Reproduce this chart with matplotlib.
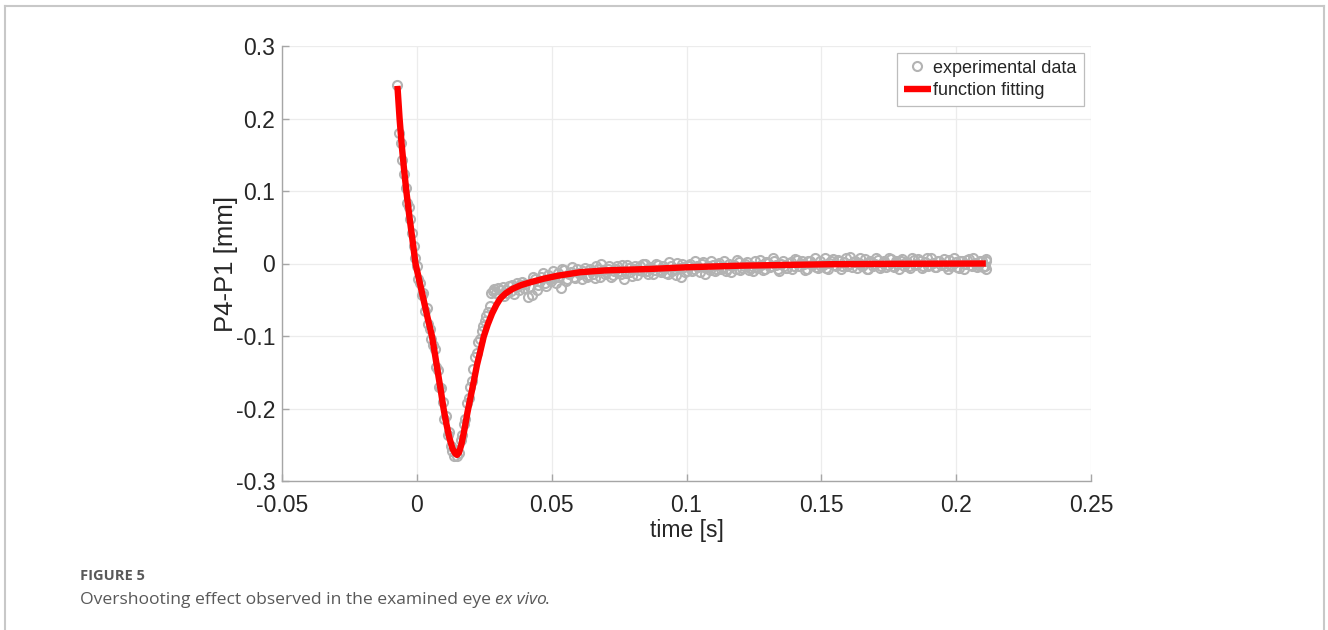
import matplotlib
matplotlib.use("Agg")
import matplotlib.pyplot as plt
from matplotlib.lines import Line2D
from matplotlib.ticker import FixedLocator, FixedFormatter

# ---------------- data ----------------
exp_time = [
    -0.0072, -0.0066, -0.0060, -0.0054, -0.0048, -0.0042, -0.0036, -0.0030, -0.0024, -0.0018,
    -0.0012, -0.0006, 0.0000, 0.0006, 0.0012, 0.0018, 0.0024, 0.0030, 0.0036, 0.0042,
    0.0048, 0.0054, 0.0060, 0.0066, 0.0072, 0.0078, 0.0084, 0.0090, 0.0096, 0.0102,
    0.0108, 0.0114, 0.0120, 0.0126, 0.0132, 0.0138, 0.0144, 0.0150, 0.0156, 0.0162,
    0.0168, 0.0174, 0.0180, 0.0186, 0.0192, 0.0198, 0.0204, 0.0210, 0.0216, 0.0222,
    0.0228, 0.0234, 0.0240, 0.0246, 0.0252, 0.0258, 0.0264, 0.0270, 0.0276, 0.0282,
    0.0288, 0.0294, 0.0300, 0.0306, 0.0312, 0.0318, 0.0324, 0.0330, 0.0336, 0.0342,
    0.0348, 0.0354, 0.0360, 0.0366, 0.0372, 0.0378, 0.0384, 0.0390, 0.0396, 0.0402,
    0.0414, 0.0426, 0.0438, 0.0450, 0.0462, 0.0474, 0.0486, 0.0498, 0.0510, 0.0522,
    0.0534, 0.0546, 0.0558, 0.0570, 0.0582, 0.0594, 0.0606, 0.0618, 0.0630, 0.0642,
    0.0654, 0.0666, 0.0678, 0.0690, 0.0702, 0.0714, 0.0726, 0.0738, 0.0750, 0.0762,
    0.0774, 0.0786, 0.0798, 0.0810, 0.0822, 0.0834, 0.0846, 0.0858, 0.0870, 0.0882,
    0.0894, 0.0906, 0.0918, 0.0930, 0.0942, 0.0954, 0.0966, 0.0978, 0.0990, 0.1002,
    0.1014, 0.1026, 0.1038, 0.1050, 0.1062, 0.1074, 0.1086, 0.1098, 0.1110, 0.1122,
    0.1134, 0.1146, 0.1158, 0.1170, 0.1182, 0.1194, 0.1206, 0.1218, 0.1230, 0.1242,
    0.1254, 0.1266, 0.1278, 0.1290, 0.1302, 0.1314, 0.1326, 0.1338, 0.1350, 0.1362,
    0.1374, 0.1386, 0.1398, 0.1410, 0.1422, 0.1434, 0.1446, 0.1458, 0.1470, 0.1482,
    0.1494, 0.1506, 0.1518, 0.1530, 0.1542, 0.1554, 0.1566, 0.1578, 0.1590, 0.1602,
    0.1614, 0.1626, 0.1638, 0.1650, 0.1662, 0.1674, 0.1686, 0.1698, 0.1710, 0.1722,
    0.1734, 0.1746, 0.1758, 0.1770, 0.1782, 0.1794, 0.1806, 0.1818, 0.1830, 0.1842,
    0.1854, 0.1866, 0.1878, 0.1890, 0.1902, 0.1914, 0.1926, 0.1938, 0.1950, 0.1962,
    0.1974, 0.1986, 0.1998, 0.2010, 0.2022, 0.2034, 0.2046, 0.2058, 0.2070, 0.2082,
    0.2094, 0.2106, 0.2112, 0.2112,
    0.0420, 0.0432, 0.0444, 0.0456, 0.0468, 0.0480, 0.0492, 0.0504, 0.0516, 0.0528,
    0.0540, 0.0552, 0.0564, 0.0576, 0.0588, 0.0600, 0.0612, 0.0624, 0.0636, 0.0648,
    0.0660, 0.0672, 0.0684, 0.0696, 0.0708, 0.0720, 0.0732, 0.0744, 0.0756, 0.0768,
    0.0780, 0.0792, 0.0804, 0.0816, 0.0828, 0.0840, 0.0852, 0.0864, 0.0876, 0.0888,
    0.0900, 0.0912, 0.0924, 0.0936, 0.0948, 0.0960, 0.0972, 0.0984, 0.0996, 0.1008,
    0.1020, 0.1032, 0.1044, 0.1056, 0.1068, 0.1080, 0.1092, 0.1104, 0.1116, 0.1128,
    0.1140, 0.1152, 0.1164, 0.1176, 0.1188, 0.1200, 0.1212, 0.1224, 0.1236, 0.1248,
    0.1260, 0.1272, 0.1284, 0.1296, 0.1308, 0.1320, 0.1332, 0.1344, 0.1356, 0.1368,
    0.1380, 0.1392, 0.1404, 0.1416, 0.1428, 0.1440, 0.1452, 0.1464, 0.1476, 0.1488,
    0.1500, 0.1512, 0.1524, 0.1536, 0.1548, 0.1560, 0.1572, 0.1584, 0.1596, 0.1608,
    0.1620, 0.1632, 0.1644, 0.1656, 0.1668, 0.1680, 0.1692, 0.1704, 0.1716, 0.1728,
    0.1740, 0.1752, 0.1764, 0.1776, 0.1788, 0.1800, 0.1812, 0.1824, 0.1836, 0.1848,
    0.1860, 0.1872, 0.1884, 0.1896, 0.1908, 0.1920, 0.1932, 0.1944, 0.1956, 0.1968,
    0.1980, 0.1992, 0.2004, 0.2016, 0.2028, 0.2040, 0.2052, 0.2064, 0.2076, 0.2088,
    0.2100, 0.2112,
]
exp_disp = [
    0.246, 0.180, 0.166, 0.143, 0.124, 0.104, 0.083, 0.078, 0.061, 0.042,
    0.024, 0.008, -0.003, -0.022, -0.027, -0.044, -0.041, -0.066, -0.062, -0.084,
    -0.091, -0.104, -0.113, -0.118, -0.143, -0.147, -0.170, -0.172, -0.191, -0.214,
    -0.211, -0.236, -0.232, -0.252, -0.258, -0.265, -0.257, -0.266, -0.262, -0.243,
    -0.236, -0.221, -0.214, -0.193, -0.185, -0.170, -0.162, -0.146, -0.129, -0.124,
    -0.108, -0.104, -0.093, -0.086, -0.079, -0.072, -0.067, -0.058, -0.041, -0.038,
    -0.035, -0.040, -0.034, -0.043, -0.037, -0.032, -0.045, -0.036, -0.040, -0.031,
    -0.038, -0.029, -0.042, -0.033, -0.027, -0.036, -0.030, -0.025, -0.034, -0.028,
    -0.046, -0.043, -0.021, -0.030, -0.018, -0.027, -0.016, -0.024, -0.020, -0.013,
    -0.034, -0.009, -0.021, -0.012, -0.018, -0.008, -0.015, -0.010, -0.019, -0.007,
    -0.014, -0.004, -0.019, -0.009, -0.012, -0.003, -0.016, -0.008, -0.011, -0.002,
    -0.013, -0.006, -0.017, -0.003, -0.009, -0.011, -0.001, -0.014, -0.006, -0.009,
    -0.002, -0.012, -0.007, -0.015, -0.003, -0.008, 0.001, -0.018, -0.005, -0.011,
    -0.001, -0.008, -0.003, -0.012, 0.002, -0.006, -0.009, -0.002, -0.007, 0.001,
    -0.005, -0.010, 0.000, -0.004, -0.008, 0.002, -0.006, -0.001, -0.009, -0.003,
    0.003, -0.005, -0.002, -0.008, 0.001, -0.004, 0.004, -0.007, -0.001, -0.003,
    -0.006, 0.002, -0.003, 0.005, -0.004, -0.001, -0.007, 0.003, 0.000, -0.005,
    0.004, -0.002, -0.006, 0.001, 0.006, -0.003, 0.003, -0.004, 0.008, 0.000,
    -0.005, 0.004, 0.001, -0.003, 0.006, -0.007, 0.002, -0.001, 0.005, -0.004,
    0.003, -0.002, 0.006, -0.005, 0.000, 0.004, -0.003, 0.002, -0.006, 0.005,
    -0.001, 0.003, -0.004, 0.007, -0.002, 0.001, -0.005, 0.004, 0.000, -0.003,
    0.005, -0.002, 0.002, -0.006, 0.003, -0.001, 0.006, -0.004, 0.001, -0.002,
    0.004, -0.003, -0.008, 0.004,
    -0.033, -0.019, -0.036, -0.024, -0.013, -0.031, -0.022, -0.010, -0.027, -0.019,
    -0.008, -0.024, -0.014, -0.005, -0.020, -0.013, -0.022, -0.006, -0.016, -0.011,
    -0.020, -0.008, -0.001, -0.015, -0.007, -0.018, -0.010, -0.004, -0.014, -0.021,
    -0.002, -0.012, -0.008, -0.016, -0.004, 0.000, -0.010, -0.005, -0.015, -0.001,
    -0.009, -0.004, -0.013, 0.002, -0.010, -0.016, -0.006, -0.001, -0.012, -0.004,
    -0.010, 0.003, -0.005, -0.001, -0.014, -0.004, 0.004, -0.011, -0.002, -0.008,
    0.003, -0.007, -0.012, -0.002, 0.005, -0.009, -0.003, 0.002, -0.006, -0.011,
    -0.006, 0.005, -0.009, 0.002, -0.005, 0.007, -0.002, -0.010, 0.003, -0.006,
    0.001, -0.008, 0.006, -0.003, 0.003, -0.009, 0.004, -0.002, 0.007, -0.006,
    -0.004, 0.007, -0.008, 0.003, -0.002, 0.005, -0.007, 0.002, -0.003, 0.009,
    0.002, -0.006, 0.008, -0.002, -0.008, 0.004, -0.004, 0.007, -0.006, 0.001,
    -0.005, 0.007, -0.003, 0.004, -0.007, 0.006, 0.001, -0.004, 0.008, -0.002,
    0.006, -0.006, 0.002, -0.003, 0.008, -0.005, 0.004, -0.002, 0.006, -0.007,
    -0.004, 0.007, -0.005, 0.003, -0.007, 0.005, -0.002, 0.008, -0.005, 0.003,
    -0.005, 0.006,
]

fit_time = [
    -0.0072, -0.0064, -0.0056, -0.0048, -0.0039, -0.0028, -0.0016, -0.0005, 0.0010, 0.0025,
    0.0040, 0.0056, 0.0068, 0.0080, 0.0090, 0.0099, 0.0110, 0.0121, 0.0132, 0.0142,
    0.0149, 0.0156, 0.0165, 0.0176, 0.0188, 0.0200, 0.0211, 0.0223, 0.0236, 0.0248,
    0.0263, 0.0279, 0.0295, 0.0310, 0.0330, 0.0355, 0.0385, 0.0420, 0.0470, 0.0520,
    0.0606, 0.0700, 0.0866, 0.1000, 0.1200, 0.1530, 0.1800, 0.2110,
]
fit_disp = [
    0.245, 0.200, 0.163, 0.132, 0.100, 0.066, 0.032, 0.000, -0.025, -0.050,
    -0.075, -0.100, -0.127, -0.155, -0.178, -0.200, -0.222, -0.241, -0.255, -0.262,
    -0.264, -0.261, -0.250, -0.230, -0.205, -0.183, -0.163, -0.140, -0.120, -0.101,
    -0.084, -0.069, -0.057, -0.048, -0.041, -0.035, -0.030, -0.026, -0.021, -0.017,
    -0.012, -0.0095, -0.0075, -0.0052, -0.0030, -0.0010, -0.0004, 0.0000,
]

x_ticks = [-0.05, 0, 0.05, 0.1, 0.15, 0.2, 0.25]
x_tick_labels = ["-0.05", "0", "0.05", "0.1", "0.15", "0.2", "0.25"]
y_ticks = [-0.3, -0.2, -0.1, 0, 0.1, 0.2, 0.3]
y_tick_labels = ["-0.3", "-0.2", "-0.1", "0", "0.1", "0.2", "0.3"]

# ---------------- figure ----------------
W, H = 1328, 630
fig = plt.figure(figsize=(W / 100, H / 100), dpi=100)
fig.patch.set_facecolor("white")

L, R, T, B = 282, 1091, 46, 481
ax = fig.add_axes([L / W, 1 - B / H, (R - L) / W, (B - T) / H])

axis_font = "Liberation Sans"
spine_col = "#a6a6a6"
text_col = "#262626"

ax.plot(exp_time, exp_disp, linestyle="none", marker="o", markersize=6.5,
        markerfacecolor="none", markeredgecolor="#b3b3b3", markeredgewidth=1.5,
        label="experimental data", zorder=2)
ax.plot(fit_time, fit_disp, color="#ff0000", linewidth=4.6,
        solid_joinstyle="round", solid_capstyle="butt",
        label="function fitting", zorder=3)

ax.set_xlim(-0.05, 0.25)
ax.set_ylim(-0.3, 0.3)
ax.xaxis.set_major_locator(FixedLocator(x_ticks))
ax.xaxis.set_major_formatter(FixedFormatter(x_tick_labels))
ax.yaxis.set_major_locator(FixedLocator(y_ticks))
ax.yaxis.set_major_formatter(FixedFormatter(y_tick_labels))

for s in ["top", "right"]:
    ax.spines[s].set_visible(False)
for s in ["left", "bottom"]:
    ax.spines[s].set_color(spine_col)
    ax.spines[s].set_linewidth(1.0)

ax.grid(True, color="#ececec", linewidth=0.9)
ax.set_axisbelow(True)
ax.tick_params(direction="in", length=5, width=1.0, color=spine_col,
               labelcolor=text_col, labelsize=16.5)
ax.tick_params(axis="x", pad=9)
ax.tick_params(axis="y", pad=5)
for lab in ax.get_xticklabels() + ax.get_yticklabels():
    lab.set_fontfamily(axis_font)

ax.set_xlabel("time [s]", fontsize=16.5, fontfamily=axis_font, color=text_col, labelpad=2)
ax.set_ylabel("P4-P1 [mm]", fontsize=18.5, fontfamily=axis_font, color=text_col, labelpad=-2)

leg = ax.legend(loc="upper right", bbox_to_anchor=(0.991, 0.985), borderaxespad=0,
                frameon=True, fancybox=False, framealpha=1, edgecolor="#bdbdbd",
                prop={"family": axis_font, "size": 13}, handlelength=1.5,
                handletextpad=0.12, borderpad=0.4, labelspacing=0.3)
leg.get_frame().set_linewidth(0.9)
for t in leg.get_texts():
    t.set_color(text_col)

# ---------------- caption & border ----------------
cap_col = "#595959"
cap_font = ["Open Sans", "DejaVu Sans"]
fig.text(80 / W, 1 - 576 / H, "FIGURE 5", fontsize=10.5, fontweight="bold",
         family=cap_font, color=cap_col, va="center", ha="left")
t1 = fig.text(80 / W, 1 - 600 / H, "Overshooting effect observed in the examined eye ",
              fontsize=12.6, family=cap_font, color=cap_col, va="center", ha="left")
fig.canvas.draw()
bb = t1.get_window_extent()
t2 = fig.text(bb.x1 / W, 1 - 600 / H, "ex vivo", fontsize=12.6, family=cap_font,
              style="italic", color=cap_col, va="center", ha="left")
fig.canvas.draw()
bb2 = t2.get_window_extent()
fig.text((bb2.x1 - 2.5) / W, 1 - 600 / H, ".", fontsize=12.6, family=cap_font,
         color=cap_col, va="center", ha="left")

border_col = "#c8c8c8"
bx0, by0, bx1 = 4.5 / W, 1 - 5.5 / H, 1323.5 / W
fig.add_artist(Line2D([bx0, bx0], [0, by0], transform=fig.transFigure, color=border_col, lw=1.5))
fig.add_artist(Line2D([bx0, bx1], [by0, by0], transform=fig.transFigure, color=border_col, lw=1.5))
fig.add_artist(Line2D([bx1, bx1], [0, by0], transform=fig.transFigure, color=border_col, lw=1.5))

fig.savefig("out.png", dpi=100, facecolor="white")
